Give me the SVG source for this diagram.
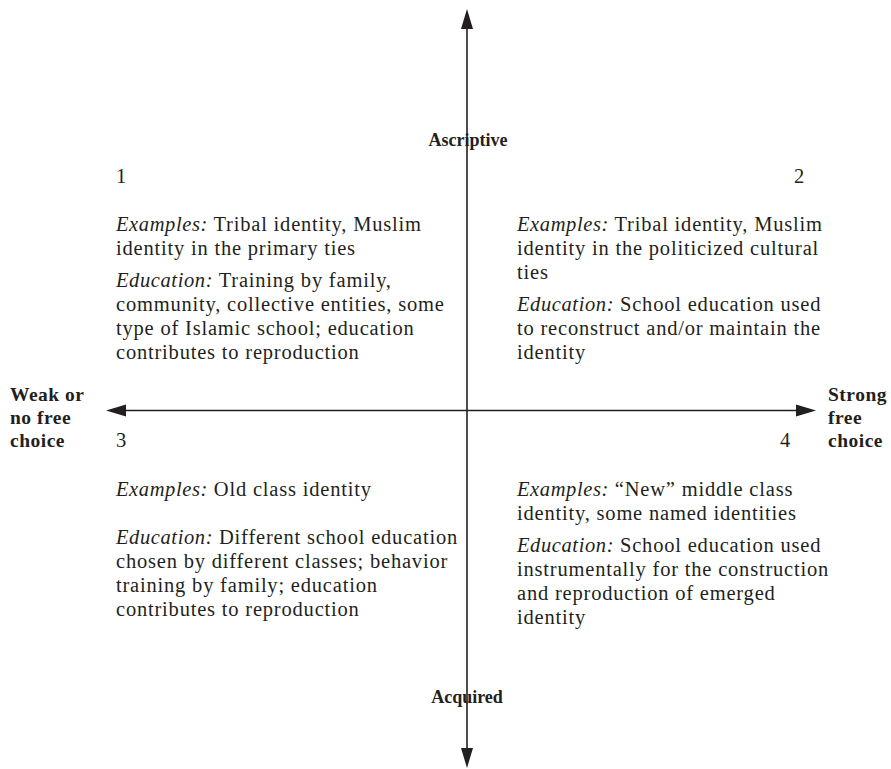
<svg xmlns="http://www.w3.org/2000/svg" width="891" height="769" viewBox="0 0 891 769">
<style>
.t{font-family:"Liberation Serif","Times New Roman",serif;font-size:20.5px;letter-spacing:0.8px;fill:#231f20}
.i{font-style:italic;letter-spacing:0.6px}
.b{font-family:"Liberation Serif","Times New Roman",serif;font-size:19.5px;font-weight:bold;letter-spacing:0.5px;fill:#231f20}
.bv{font-size:18px;letter-spacing:0}
.ax{stroke:#231f20;stroke-width:1.6;fill:none}
</style>
<defs>
<marker id="ah" markerUnits="userSpaceOnUse" markerWidth="21" markerHeight="13" viewBox="0 0 21 13" refX="1" refY="6.5" orient="auto-start-reverse">
<path d="M0,0.5 L20,6.5 L0,12.5 z" fill="#231f20"/>
</marker>
</defs>
<rect width="891" height="769" fill="#ffffff"/>
<g id="connectors">
<line class="ax" x1="467" y1="28" x2="467" y2="749" marker-start="url(#ah)" marker-end="url(#ah)"/>
<line class="ax" x1="125" y1="410.5" x2="797" y2="410.5" marker-start="url(#ah)" marker-end="url(#ah)"/>
</g>
<g id="label-ascriptive"><text class="b bv" x="468" y="146" text-anchor="middle">Ascriptive</text></g>
<g id="label-acquired"><text class="b bv" x="467" y="703" text-anchor="middle">Acquired</text></g>
<g id="label-weak">
<text class="b" x="10" y="401">Weak or</text>
<text class="b" x="10" y="424">no free</text>
<text class="b" x="10" y="447">choice</text>
</g>
<g id="label-strong">
<text class="b" x="828" y="401">Strong</text>
<text class="b" x="828" y="424">free</text>
<text class="b" x="828" y="447">choice</text>
</g>
<g id="quadrant-1">
<text class="t" x="116" y="183">1</text>
<text class="t" x="116" y="231"><tspan class="i">Examples:</tspan> Tribal identity, Muslim</text>
<text class="t" x="116" y="255">identity in the primary ties</text>
<text class="t" x="116" y="287"><tspan class="i">Education:</tspan> Training by family,</text>
<text class="t" x="116" y="311">community, collective entities, some</text>
<text class="t" x="116" y="335">type of Islamic school; education</text>
<text class="t" x="116" y="359">contributes to reproduction</text>
</g>
<g id="quadrant-2">
<text class="t" x="805" y="183" text-anchor="end">2</text>
<text class="t" x="517" y="231"><tspan class="i">Examples:</tspan> Tribal identity, Muslim</text>
<text class="t" x="517" y="255">identity in the politicized cultural</text>
<text class="t" x="517" y="279">ties</text>
<text class="t" x="517" y="311"><tspan class="i">Education:</tspan> School education used</text>
<text class="t" x="517" y="335">to reconstruct and/or maintain the</text>
<text class="t" x="517" y="359">identity</text>
</g>
<g id="quadrant-3">
<text class="t" x="116" y="447">3</text>
<text class="t" x="116" y="496"><tspan class="i">Examples:</tspan> Old class identity</text>
<text class="t" x="116" y="544"><tspan class="i">Education:</tspan> Different school education</text>
<text class="t" x="116" y="568">chosen by different classes; behavior</text>
<text class="t" x="116" y="592">training by family; education</text>
<text class="t" x="116" y="616">contributes to reproduction</text>
</g>
<g id="quadrant-4">
<text class="t" x="791" y="447" text-anchor="end">4</text>
<text class="t" x="517" y="496"><tspan class="i">Examples:</tspan> “New” middle class</text>
<text class="t" x="517" y="520">identity, some named identities</text>
<text class="t" x="517" y="552"><tspan class="i">Education:</tspan> School education used</text>
<text class="t" x="517" y="576">instrumentally for the construction</text>
<text class="t" x="517" y="600">and reproduction of emerged</text>
<text class="t" x="517" y="624">identity</text>
</g>
</svg>
